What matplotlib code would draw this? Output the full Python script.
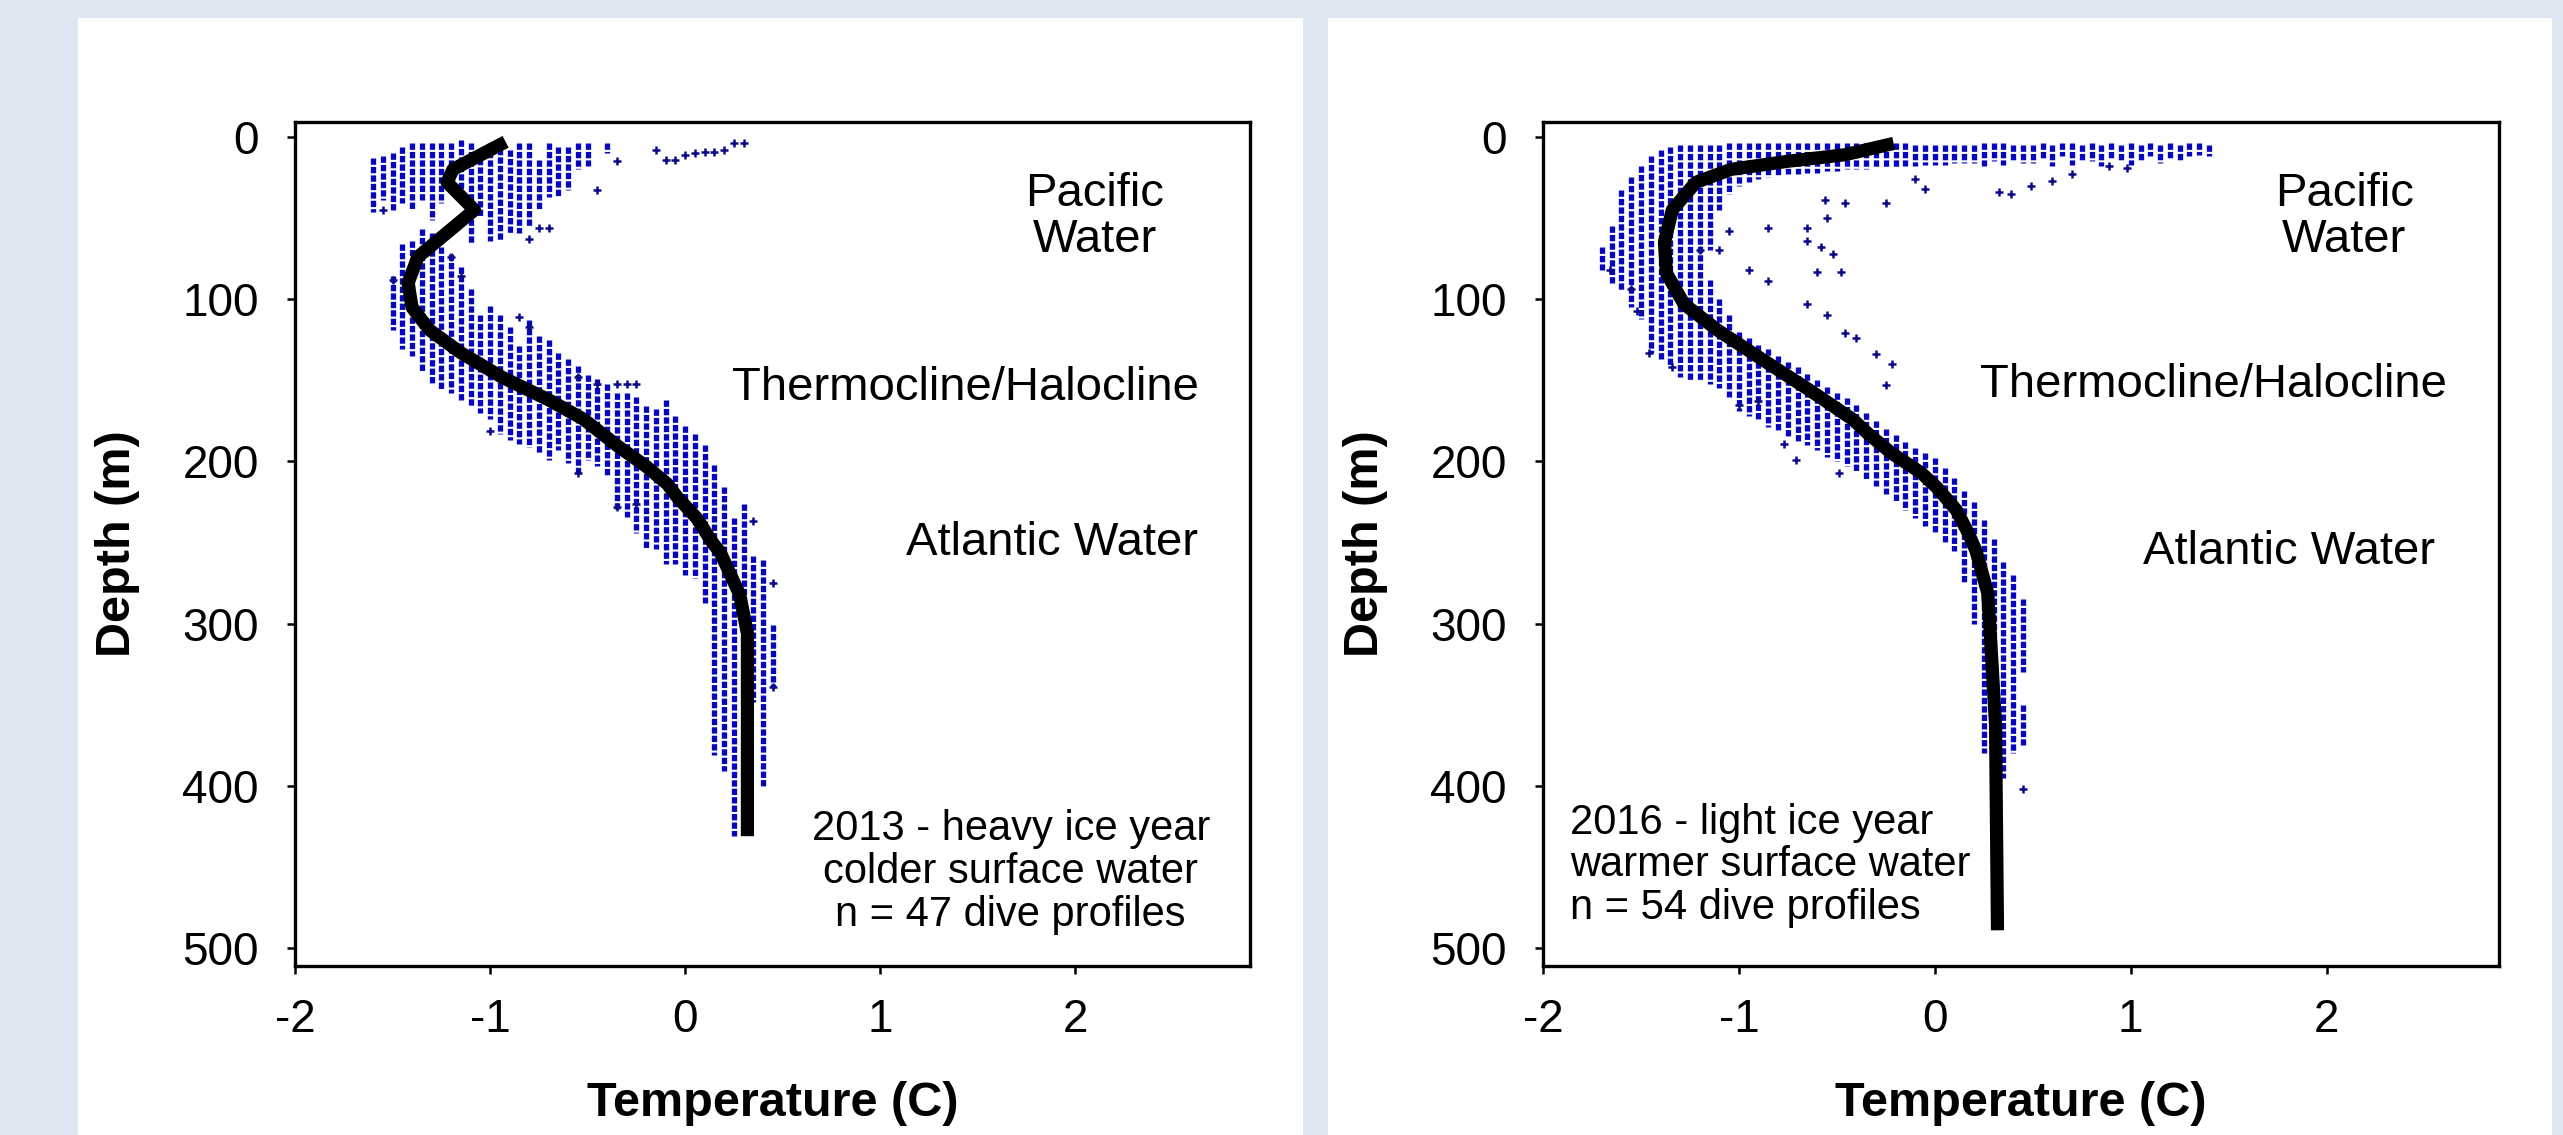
import matplotlib
matplotlib.use("Agg")
import matplotlib.pyplot as plt
from matplotlib.patches import Rectangle

plt.rcParams['font.family'] = ['Liberation Sans', 'DejaVu Sans']
plt.rcParams['axes.unicode_minus'] = False

# ---------------------------------------------------------------- data
# Mean temperature profiles (depth in m, temperature in deg C)
depth_2013 = [3, 20, 28, 45, 59, 74, 90, 105, 119, 133, 148, 162, 174, 191,
              203, 214, 222, 235, 250, 256, 282, 306, 343, 431]
temp_2013 = [-0.92, -1.19, -1.22, -1.08, -1.22, -1.37, -1.42, -1.40, -1.31,
             -1.15, -0.94, -0.70, -0.52, -0.34, -0.20, -0.09, -0.04, 0.06,
             0.14, 0.18, 0.28, 0.32, 0.32, 0.32]

depth_2016 = [4, 11, 15, 20, 28, 45, 65, 84, 103, 119, 138, 156, 174, 183,
              195, 207, 216, 230, 244, 255, 281, 300, 362, 489]
temp_2016 = [-0.21, -0.46, -0.75, -1.04, -1.22, -1.34, -1.38, -1.37, -1.28,
             -1.11, -0.87, -0.64, -0.42, -0.34, -0.22, -0.07, 0.01, 0.11,
             0.17, 0.21, 0.27, 0.28, 0.31, 0.32]

# Dive samples, 2013: runs of readings at one temperature (temp, top, bottom)
runs13_temp = [-1.60, -1.55, -1.50, -1.45, -1.40, -1.35, -1.30, -1.25, -1.20,
               -1.15, -1.10, -1.05, -1.00, -0.95, -0.90, -0.85, -0.80, -0.75,
               -0.70, -0.65, -0.60, -0.55, -0.50, -0.40,
               -1.50, -1.45, -1.40, -1.35, -1.30, -1.25, -1.20, -1.15, -1.10,
               -1.05, -1.00, -0.95, -0.90, -0.85, -0.80, -0.75, -0.70, -0.65,
               -0.60, -0.55, -0.50, -0.45, -0.40, -0.35, -0.30, -0.25, -0.20,
               -0.15, -0.10, -0.05, 0.00, 0.05, 0.10, 0.15, 0.20, 0.25, 0.30,
               0.35, 0.40, 0.45]
runs13_top = [13, 12, 10, 6, 4, 4, 4, 4, 4, 2, 4, 8, 4, 2, 8, 4, 4, 14, 4, 6,
              6, 4, 4, 4,
              86, 66, 64, 57, 59, 68, 72, 80, 94, 110, 104, 110, 117, 129, 113,
              123, 125, 133, 137, 141, 147, 149, 152, 158, 158, 160, 166, 168,
              162, 172, 178, 183, 190, 202, 216, 235, 226, 258, 261, 301]
runs13_bot = [46, 39, 45, 41, 45, 39, 51, 41, 18, 39, 66, 49, 64, 64, 59, 59,
              55, 45, 37, 37, 33, 20, 18, 10,
              119, 131, 135, 145, 152, 156, 158, 162, 166, 170, 174, 183, 187,
              189, 191, 195, 199, 193, 201, 207, 199, 203, 209, 230, 234, 244,
              254, 254, 263, 263, 270, 272, 287, 381, 391, 431, 300, 348, 400,
              339]

# Single readings, 2013
pts13_temp = [-0.15, -0.10, -0.05, 0.00, 0.05, 0.10, 0.15, 0.20, 0.25, 0.30,
              -0.35, -0.45, -0.75, -0.70, -0.80, -1.15, -1.20, -0.85, -0.80,
              -0.55, -0.45, -0.35, -0.30, -0.25, -1.00, -0.55, -0.35, -0.25,
              -1.50, -1.55, 0.35, 0.45, 0.45]
pts13_depth = [8, 14, 14, 11, 10, 9, 9, 8, 4, 4,
               15, 33, 56, 56, 63, 86, 74, 111, 117,
               148, 152, 152, 152, 152, 181, 207, 228, 226,
               88, 45, 237, 275, 339]

# Dive samples, 2016
runs16_temp = [-1.70, -1.65, -1.60, -1.55, -1.50, -1.45, -1.40, -1.35, -1.30,
               -1.25, -1.20,
               -1.15, -1.10, -1.05, -1.00, -0.95, -0.90, -0.85, -0.80, -0.75,
               -0.70, -0.65, -0.60, -0.55, -0.50, -0.45, -0.40, -0.35, -0.30,
               -0.25, -0.20, -0.15, -0.10, -0.05, 0.00, 0.05, 0.10, 0.15,
               0.20, 0.25, 0.30, 0.35, 0.40, 0.45,
               -1.15, -1.10, -1.05, -1.00, -0.95, -0.90, -0.85, -0.80, -0.75,
               -0.70, -0.65, -0.60, -0.55, -0.50, -0.45, -0.40, -0.35, -0.30,
               -0.25, -0.20, -0.15, -0.10, -0.05, 0.00, 0.05, 0.10, 0.15,
               0.20, 0.25, 0.30, 0.35, 0.40, 0.45, 0.45,
               0.50, 0.55, 0.60, 0.65, 0.70, 0.75, 0.80, 0.85, 0.90, 0.95,
               1.00, 1.05, 1.10, 1.15, 1.20, 1.25, 1.30, 1.35, 1.40]
runs16_top = [68, 55, 33, 25, 18, 12, 8, 6, 5, 5, 5,
              5, 5, 4, 4, 4, 4, 4, 4, 4, 4, 4, 4, 4, 4, 4, 4, 4, 4, 4, 4, 4,
              5, 5, 5, 5, 5, 5, 5, 4, 4, 4, 5, 5,
              88, 100, 110, 120, 124, 128, 131, 135, 139, 142, 146, 150, 154,
              158, 161, 165, 170, 175, 180, 184, 188, 192, 195, 198, 204, 210,
              218, 225, 236, 248, 262, 270, 285, 350,
              5, 4, 5, 4, 4, 5, 4, 5, 4, 5, 4, 5, 4, 5, 4, 5, 4, 4, 5]
runs16_bot = [82, 90, 95, 105, 112, 133, 138, 142, 148, 150, 150,
              70, 45, 35, 30, 28, 26, 25, 24, 23, 23, 22, 22, 21, 21, 20, 20,
              20, 19, 19, 19, 18, 18, 17, 17, 17, 16, 16, 16, 18, 15, 17, 15,
              16,
              152, 155, 160, 169, 172, 175, 179, 182, 185, 188, 190, 193, 197,
              200, 203, 206, 211, 215, 220, 225, 230, 235, 240, 245, 250, 255,
              275, 300, 380, 400, 395, 380, 330, 375,
              16, 13, 18, 12, 17, 14, 15, 18, 13, 15, 17, 14, 12, 16, 13, 15,
              12, 11, 12]

# Single readings, 2016
pts16_temp = [-0.56, -0.46, -0.25, -0.55, -0.85, -0.65, -1.05, -1.20, -1.10,
              -0.65, -0.58, -0.52, -0.60, -0.48, -0.95, -0.85, -0.65, -0.55,
              -0.46, -0.40, -0.30, -0.22, -0.25, -1.00, -0.90, -0.77, -0.71,
              -0.49, -1.55, -1.66, -1.52, -1.46, -1.34, -0.10, -0.05, 0.33,
              0.39, 0.49, 0.60, 0.70, 0.89, 0.98, 0.45]
pts16_depth = [39, 41, 41, 50, 56, 56, 58, 70, 70,
               64, 68, 72, 83, 83, 82, 89, 103, 110,
               121, 124, 134, 140, 153, 165, 163, 189, 199,
               207, 94, 82, 107, 133, 142, 26, 32, 34,
               35, 30, 27, 23, 18, 19, 402]

depth_ticks = [0, 100, 200, 300, 400, 500]
temp_ticks = [-2, -1, 0, 1, 2]

notes_2013 = "2013 - heavy ice year\ncolder surface water\nn = 47 dive profiles"
notes_2016 = "2016 - light ice year\nwarmer surface water\nn = 54 dive profiles"

# ---------------------------------------------------------------- figure
W, H = 2563, 1135
fig = plt.figure(figsize=(W / 100, H / 100), dpi=100)
fig.patch.set_facecolor('#dde6f1')

# white cards behind each chart
for x0, x1 in [(78, 1303), (1328, 2552)]:
    fig.add_artist(Rectangle((x0 / W, 0), (x1 - x0) / W, 1 - 18 / H,
                             transform=fig.transFigure, facecolor='white',
                             edgecolor='none', zorder=0))

dot_blue = '#0606c0'
navy = '#0a0a88'


def draw_panel(ax, rt, rtop, rbot, pt, pd, mt, md, xmax):
    ax.vlines(rt, rtop, rbot, colors=dot_blue, linewidth=3.8,
              linestyles=(0, (1.2, 0.4)), zorder=2)
    ax.plot(pt, pd, linestyle='none', marker='+', markersize=5.5,
            markeredgewidth=1.8, color=navy, zorder=2)
    ax.plot(mt, md, color='black', linewidth=9.5, solid_joinstyle='round',
            solid_capstyle='butt', zorder=3)
    ax.set_xlim(-2, xmax)
    ax.set_ylim(511, -9.2)
    ax.set_xticks(temp_ticks)
    ax.set_xticklabels([str(t) for t in temp_ticks])
    ax.set_yticks(depth_ticks)
    ax.set_yticklabels([str(d) for d in depth_ticks])
    ax.tick_params(axis='both', direction='out', length=6, width=1.8,
                   labelsize=33, color='black')
    ax.tick_params(axis='x', pad=17)
    ax.tick_params(axis='y', pad=20)
    for s in ax.spines.values():
        s.set_linewidth(2.4)
    ax.set_xlabel('Temperature (C)', fontsize=35, fontweight='bold')
    ax.set_ylabel('Depth (m)', fontsize=35, fontweight='bold')
    ax.xaxis.set_label_coords(0.5, -0.136)
    ax.yaxis.set_label_coords(-0.162, 0.5)


ax1 = fig.add_axes([295 / W, 1 - 966 / H, 955 / W, 844 / H])
draw_panel(ax1, runs13_temp, runs13_top, runs13_bot, pts13_temp, pts13_depth,
           temp_2013, depth_2013, 2.897)
ax1.text(2.10, 49.5, 'Pacific\nWater', fontsize=34, ha='center', va='center',
         linespacing=1.07)
ax1.text(1.44, 155, 'Thermocline/Halocline', fontsize=34, ha='center',
         va='center')
ax1.text(1.88, 250, 'Atlantic Water', fontsize=34, ha='center', va='center')
ax1.text(1.67, 453, notes_2013, fontsize=30, ha='center', va='center',
         multialignment='center', linespacing=1.09)

ax2 = fig.add_axes([1543 / W, 1 - 966 / H, 956 / W, 844 / H])
draw_panel(ax2, runs16_temp, runs16_top, runs16_bot, pts16_temp, pts16_depth,
           temp_2016, depth_2016, 2.88)
ax2.text(2.09, 49.5, 'Pacific\nWater', fontsize=34, ha='center', va='center',
         linespacing=1.07)
ax2.text(1.42, 153, 'Thermocline/Halocline', fontsize=34, ha='center',
         va='center')
ax2.text(1.81, 256, 'Atlantic Water', fontsize=34, ha='center', va='center')
ax2.text(-1.86, 449, notes_2016, fontsize=30, ha='left', va='center',
         multialignment='left', linespacing=1.09)

fig.savefig('out.png', dpi=100, facecolor=fig.get_facecolor())
